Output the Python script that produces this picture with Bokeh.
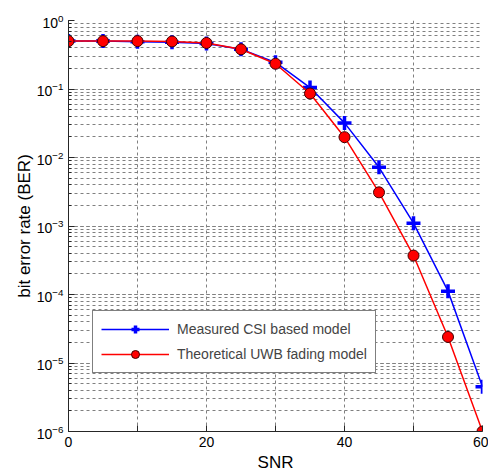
from bokeh.plotting import figure
from bokeh.models import Legend, LegendItem, FixedTicker, LogTicker
from bokeh.embed import file_html
from bokeh.resources import INLINE

snr = [0, 5, 10, 15, 20, 25, 30, 35, 40, 45, 50, 55, 60]
measured = [0.5, 0.5, 0.49, 0.48, 0.46, 0.38, 0.245, 0.105, 0.032, 0.0072, 0.0011, 0.000112, 4.5e-6]
theoretical = [0.5, 0.5, 0.5, 0.494, 0.47, 0.38, 0.234, 0.086, 0.0198, 0.0031, 0.00037, 2.4e-5, 1e-6]
x_ticks = [0, 10, 20, 30, 40, 50, 60]
x_labels = {10: "", 30: "", 50: ""}

FONT = "Liberation Sans"

p = figure(width=488, height=474, y_axis_type="log", x_range=(0, 60), y_range=(1e-6, 1),
           output_backend="svg", toolbar_location=None,
           min_border_left=68, min_border_right=6, min_border_top=20, min_border_bottom=41)
p.outline_line_color = None
p.background_fill_color = "white"
p.border_fill_color = "white"

p.xaxis.ticker = FixedTicker(ticks=x_ticks)
p.xaxis.major_label_overrides = {k: v for k, v in x_labels.items()}
p.yaxis.ticker = LogTicker(desired_num_ticks=7, num_minor_ticks=10)

for ax in (p.xaxis[0], p.yaxis[0]):
    ax.axis_line_color = "#262626"
    ax.major_tick_line_color = "#262626"
    ax.minor_tick_line_color = "#262626"
    ax.major_tick_in = 6
    ax.major_tick_out = 0
    ax.minor_tick_in = 3
    ax.minor_tick_out = 0
    ax.major_label_text_font = FONT
    ax.major_label_text_font_size = "14px"
    ax.major_label_text_color = "black"
    ax.axis_label_text_font = FONT
    ax.axis_label_text_font_size = "17px"
    ax.axis_label_text_font_style = "normal"
    ax.axis_label_text_color = "black"
p.xaxis.minor_tick_line_color = None
p.xaxis.major_label_standoff = 5
p.xaxis.axis_label_standoff = 3
p.yaxis.major_label_standoff = 5
p.yaxis.axis_label_standoff = 0
p.xaxis.axis_label = "SNR"
p.yaxis.axis_label = "bit error rate (BER)"

p.xgrid.grid_line_color = "#808080"
p.xgrid.grid_line_dash = "3 3"
p.ygrid.grid_line_color = "#808080"
p.ygrid.grid_line_dash = "3 3"
p.ygrid.minor_grid_line_color = "#808080"
p.ygrid.minor_grid_line_dash = "3 3"

bl = p.line(snr, measured, line_color="blue", line_width=1.5)
bs = p.scatter(snr, measured, marker="cross", size=14, line_color="blue", line_width=3.5)
rl = p.line(snr, theoretical, line_color="red", line_width=1.5)
rs = p.scatter(snr, theoretical, marker="circle", size=11, fill_color="red", line_color="#400000", line_width=1)

legend = Legend(items=[
    LegendItem(label="Measured CSI based model", renderers=[bl, bs]),
    LegendItem(label="Theoretical UWB fading model", renderers=[rl, rs]),
], location=(24, 58))
legend.glyph_width = 68
legend.glyph_height = 20
legend.label_height = 20
legend.label_text_font = FONT
legend.label_text_font_size = "14px"
legend.label_standoff = 8
legend.border_line_color = "black"
legend.border_line_width = 1
legend.background_fill_alpha = 1
legend.padding = 8
legend.spacing = 5
legend.margin = 0
p.add_layout(legend)

open("out.html", "w").write(file_html(p, INLINE))
